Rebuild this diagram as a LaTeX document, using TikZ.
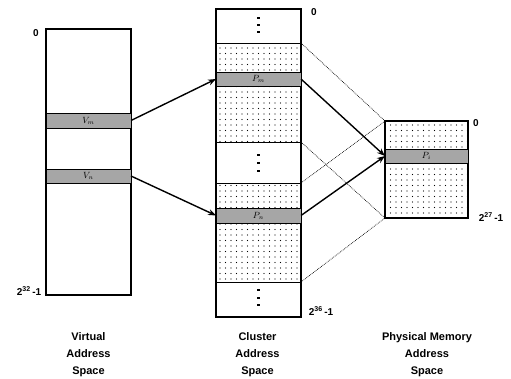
\documentclass[tikz,border=0pt]{standalone}
\usepackage{fontspec}
\setmainfont{Liberation Sans}
\usetikzlibrary{patterns.meta,arrows.meta}
\begin{document}
\begin{tikzpicture}[x=1pt,y=-1pt]
\useasboundingbox (0,0) rectangle (511,378);
\tikzset{
 outerbox/.style={draw,line width=1.4pt,inner sep=0pt,outer sep=0pt},
 stip/.style={draw,line width=1pt,inner sep=0pt,outer sep=0pt,pattern={Dots[distance=5.5pt,radius=0.65pt]},pattern color=black},
 plain/.style={draw,line width=1pt,inner sep=0pt,outer sep=0pt},
 band/.style={fill=gray!70,draw,line width=1pt,inner sep=0pt,outer sep=0pt,font=\itshape\fontsize{9}{10}\selectfont},
 link/.style={-{Stealth[length=8pt,width=6pt]},line width=1.4pt},
 guide/.style={densely dotted,line width=0.7pt},
 lab/.style={font=\bfseries\fontsize{11}{17}\selectfont,align=center},
 lim/.style={font=\bfseries\fontsize{10}{12}\selectfont,inner sep=0pt},
 dotmark/.style={fill=black,minimum size=2.4pt,inner sep=0pt,outer sep=0pt}
}
% Virtual address space
\node[outerbox,minimum width=85pt,minimum height=266pt] (vas) at (88.5,162) {};
\node[band,minimum width=85pt,minimum height=15pt] (vm) at (88.5,120.5) {$V_m$};
\node[band,minimum width=85pt,minimum height=14pt] (vn) at (88.5,176) {$V_n$};
\node[lim] (v0) at (36,33) {0};
\node[lim] (vmax) at (29,291) {2\textsuperscript{32}\,-1};

% Cluster address space
\node[plain,minimum width=85pt,minimum height=34pt] (cw1) at (258.5,26) {};
\node[stip,minimum width=85pt,minimum height=99pt] (cs1) at (258.5,92.5) {};
\node[plain,minimum width=85pt,minimum height=41pt] (cw2) at (258.5,162.5) {};
\node[stip,minimum width=85pt,minimum height=99pt] (cs2) at (258.5,232.5) {};
\node[plain,minimum width=85pt,minimum height=35pt] (cw3) at (258.5,299.5) {};
\node[outerbox,minimum width=85pt,minimum height=308pt] (cas) at (258.5,163) {};
\node[band,minimum width=85pt,minimum height=14pt] (pm) at (258.5,79) {$P_m$};
\node[band,minimum width=85pt,minimum height=15pt] (pn) at (258.5,215.5) {$P_n$};
\foreach \n/\y in {a/18,b/25,c/32,d/155,e/163,f/171,g/290,h/298,i/305}
  \node[dotmark] (dot\n) at (258.5,\y) {};
\node[lim] (c0) at (314,12) {0};
\node[lim] (cmax) at (321,311) {2\textsuperscript{36}\,-1};

% Physical memory address space
\node[stip,minimum width=83pt,minimum height=97pt] (ph) at (426.5,169.5) {};
\node[outerbox,minimum width=83pt,minimum height=97pt] (phb) at (426.5,169.5) {};
\node[band,minimum width=83pt,minimum height=14pt] (pi) at (426.5,156) {$P_i$};
\node[lim] (p0) at (476,123) {0};
\node[lim] (pmax) at (491,217) {2\textsuperscript{27}\,-1};

% connectors
\draw[guide] (cs1.north east) -- (ph.north west);
\draw[guide] (cs1.south east) -- (ph.south west);
\draw[guide] (cs2.north east) -- (ph.north west);
\draw[guide] (cs2.south east) -- (ph.south west);
\draw[link] (vm.east) -- (pm.west);
\draw[link] (vn.east) -- (pn.west);
\draw[link] (pm.east) -- (pi.west);
\draw[link] (pn.east) -- (pi.west);

% captions
\node[lab] (lv) at (88.5,355) {Virtual\\Address\\Space};
\node[lab] (lc) at (257.5,355) {Cluster\\Address\\Space};
\node[lab] (lp) at (427,355) {Physical Memory\\Address\\Space};
\end{tikzpicture}
\end{document}
